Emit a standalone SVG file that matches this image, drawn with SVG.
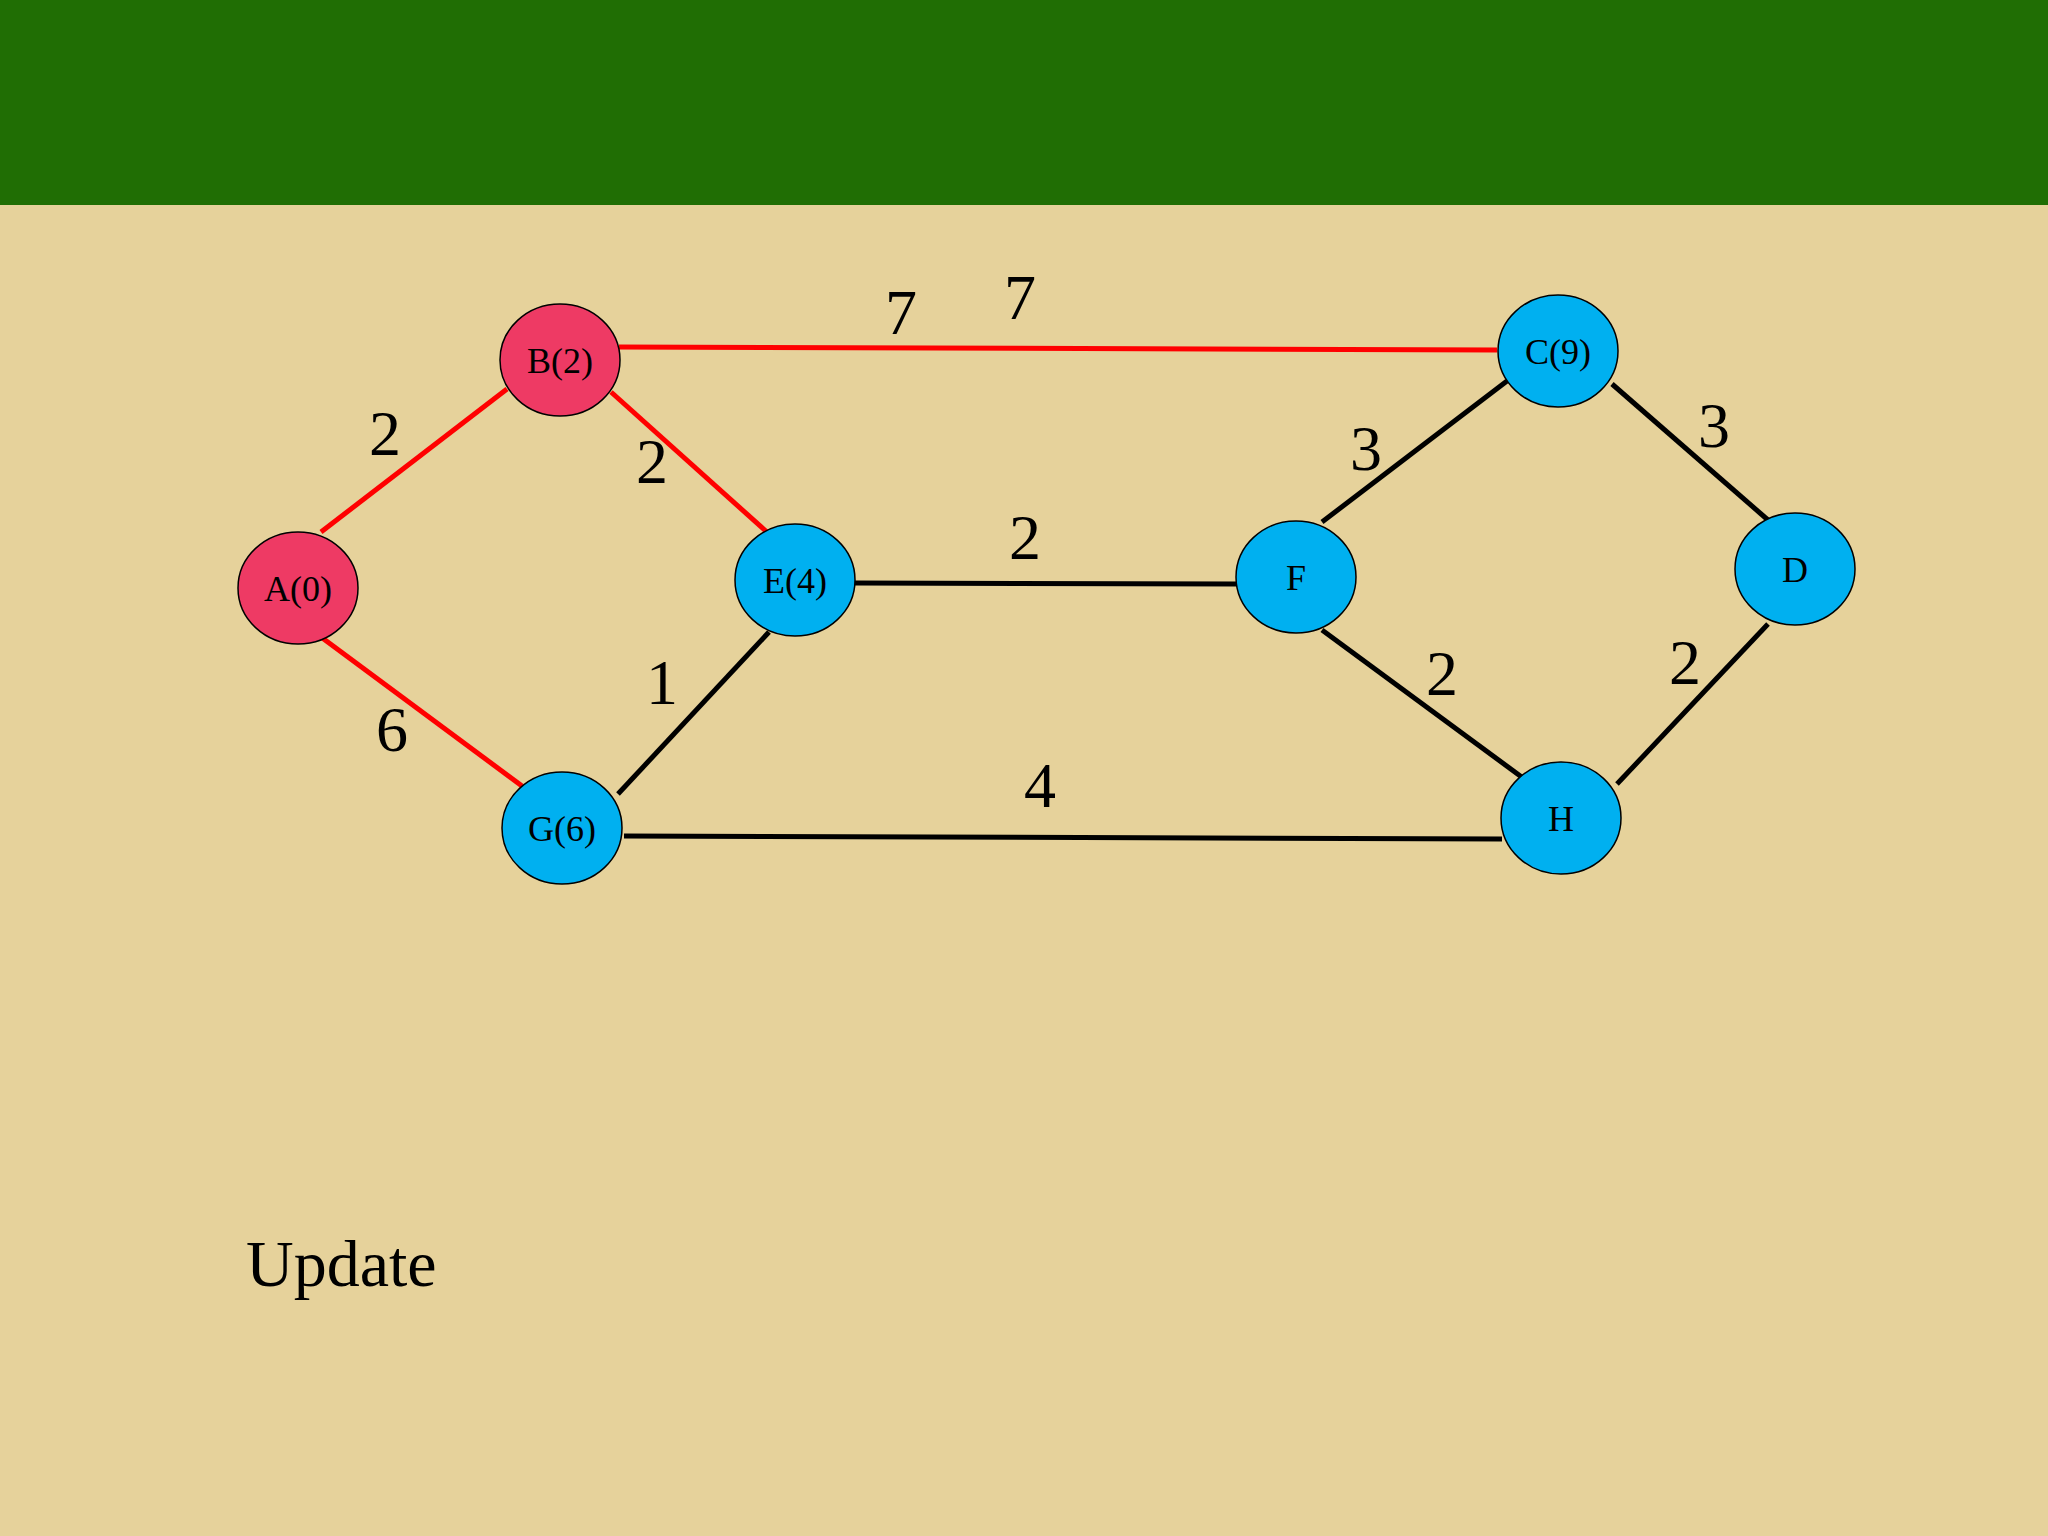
<svg xmlns="http://www.w3.org/2000/svg" width="2048" height="1536" viewBox="0 0 2048 1536">
<style>
.n ellipse{stroke:#000;stroke-width:1.5}
.r{fill:#EE3A64}.b{fill:#00B0F0}
.n text{font-family:"Liberation Serif",serif;font-size:36px;text-anchor:middle;fill:#000}
.e line{stroke-width:5}
.red{stroke:#F00}.blk{stroke:#000}
.w{font-family:"Liberation Serif",serif;font-size:64px;text-anchor:middle;fill:#000}
</style>
<rect width="2048" height="1536" fill="#E6D29B"/>
<rect width="2048" height="205" fill="#206E04"/>
<g id="connectors" class="e">
<line class="red" x1="321" y1="532" x2="507" y2="389"/>
<line class="red" x1="321" y1="637" x2="522" y2="786"/>
<line class="red" x1="611" y1="392" x2="768" y2="533"/>
<line class="red" x1="619" y1="347" x2="1497" y2="350"/>
<line class="blk" x1="855" y1="583" x2="1238" y2="584"/>
<line class="blk" x1="769" y1="632" x2="618" y2="794"/>
<line class="blk" x1="624" y1="836" x2="1502" y2="839"/>
<line class="blk" x1="1322" y1="522" x2="1507" y2="381"/>
<line class="blk" x1="1322" y1="630" x2="1523" y2="778"/>
<line class="blk" x1="1612" y1="384" x2="1768" y2="520"/>
<line class="blk" x1="1617" y1="784" x2="1768" y2="624"/>
</g>
<g class="w">
<text x="385" y="455">2</text><text x="652" y="483">2</text>
<text x="901" y="334">7</text><text x="1020" y="319">7</text>
<text x="1025" y="559">2</text><text x="1366" y="470">3</text>
<text x="1714" y="447">3</text><text x="662" y="704">1</text>
<text x="392" y="751">6</text><text x="1040" y="807">4</text>
<text x="1442" y="695">2</text><text x="1685" y="684">2</text>
</g>
<g id="A" class="n"><ellipse class="r" cx="298" cy="588" rx="60" ry="56"/><text x="298" y="601">A(0)</text></g>
<g id="B" class="n"><ellipse class="r" cx="560" cy="360" rx="60" ry="56"/><text x="560" y="373">B(2)</text></g>
<g id="E" class="n"><ellipse class="b" cx="795" cy="580" rx="60" ry="56"/><text x="795" y="593">E(4)</text></g>
<g id="G" class="n"><ellipse class="b" cx="562" cy="828" rx="60" ry="56"/><text x="562" y="841">G(6)</text></g>
<g id="F" class="n"><ellipse class="b" cx="1296" cy="577" rx="60" ry="56"/><text x="1296" y="590">F</text></g>
<g id="C" class="n"><ellipse class="b" cx="1558" cy="351" rx="60" ry="56"/><text x="1558" y="364">C(9)</text></g>
<g id="D" class="n"><ellipse class="b" cx="1795" cy="569" rx="60" ry="56"/><text x="1795" y="582">D</text></g>
<g id="H" class="n"><ellipse class="b" cx="1561" cy="818" rx="60" ry="56"/><text x="1561" y="831">H</text></g>
<text x="246" y="1286" font-family="Liberation Serif,serif" font-size="66" fill="#000">Update</text>
</svg>
